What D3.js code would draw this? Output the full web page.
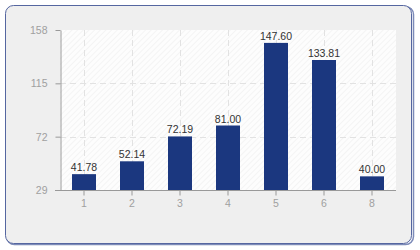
<!DOCTYPE html>
<html>
<head>
<meta charset="utf-8">
<script src="https://cdn.jsdelivr.net/npm/d3@7"></script>
<style>
  body { margin: 0; background: #fff; }
  text { font-family: "Liberation Sans", Arial, sans-serif; }
</style>
</head>
<body>
<div class="chartBox"></div>
<script>
// data
var categories = ['1', '2', '3', '4', '5', '6', '8'];
var values = [41.78, 52.14, 72.19, 81.00, 147.60, 133.81, 40.00];
var yTicks = [29, 72, 115, 158];

var W = 420, H = 250;
var margin = { top: 30, right: 24, bottom: 60, left: 60 };
var w = W - margin.left - margin.right,
    h = H - margin.top - margin.bottom;

var svg = d3.select('div.chartBox')
  .append('svg')
  .attr('width', W)
  .attr('height', H);

// hatched plot background
var defs = svg.append('defs');
var pat = defs.append('pattern')
  .attr('id', 'hatch')
  .attr('patternUnits', 'userSpaceOnUse')
  .attr('width', 4).attr('height', 4)
  .attr('patternTransform', 'rotate(45)');
pat.append('rect').attr('width', 4).attr('height', 4).attr('fill', '#fdfdfd');
pat.append('line').attr('x1', 0).attr('y1', 0).attr('x2', 0).attr('y2', 4)
  .attr('stroke', '#ececec').attr('stroke-width', 1);

// outer panel with a slight shadow
svg.append('rect')
  .attr('x', 6.5).attr('y', 6.5).attr('width', 407).attr('height', 238)
  .attr('rx', 8)
  .attr('fill', 'none').attr('stroke', '#7d8bb8').attr('stroke-width', 1.5);
svg.append('rect')
  .attr('x', 5.5).attr('y', 5.5).attr('width', 406).attr('height', 238)
  .attr('rx', 8)
  .attr('fill', '#efefef').attr('stroke', '#5566a0').attr('stroke-width', 1);

var g = svg.append('g')
  .attr('transform', 'translate(' + margin.left + ',' + margin.top + ')');

var x = d3.scaleBand().domain(categories).range([0, w])
  .paddingInner(0.5).paddingOuter(0.25);
var y = d3.scaleLinear().domain([29, 158]).range([h, 0]);

g.append('rect')
  .attr('width', w).attr('height', h)
  .attr('fill', 'url(#hatch)');

// grid
g.selectAll('line.hgrid')
  .data(yTicks.slice(1, 3))
  .enter()
  .append('line')
  .attr('class', 'hgrid')
  .attr('x1', 0).attr('x2', w)
  .attr('y1', function(d) { return Math.round(y(d)) + 0.5; })
  .attr('y2', function(d) { return Math.round(y(d)) + 0.5; })
  .attr('stroke', '#e2e2e2').attr('stroke-dasharray', '6,4');

g.selectAll('line.vgrid')
  .data(categories)
  .enter()
  .append('line')
  .attr('class', 'vgrid')
  .attr('x1', function(d) { return Math.round(x(d) + x.bandwidth() / 2) + 0.5; })
  .attr('x2', function(d) { return Math.round(x(d) + x.bandwidth() / 2) + 0.5; })
  .attr('y1', 0).attr('y2', h)
  .attr('stroke', '#e2e2e2').attr('stroke-dasharray', '6,4');

// bars
g.selectAll('rect.bar')
  .data(values)
  .enter()
  .append('rect')
  .attr('class', 'bar')
  .attr('x', function(d, i) { return x(categories[i]); })
  .attr('y', function(d) { return y(d); })
  .attr('width', x.bandwidth())
  .attr('height', function(d) { return h - y(d); })
  .attr('fill', '#1b377f');

g.selectAll('text.val')
  .data(values)
  .enter()
  .append('text')
  .attr('class', 'val')
  .attr('x', function(d, i) { return x(categories[i]) + x.bandwidth() / 2; })
  .attr('y', function(d) { return y(d) - 3; })
  .attr('text-anchor', 'middle')
  .attr('font-size', '10.5px')
  .attr('fill', '#333')
  .text(function(d) { return d.toFixed(2); });

// axes
var yAxis = g.append('g')
  .attr('transform', 'translate(0.5,0)')
  .call(d3.axisLeft(y).tickValues(yTicks).tickSize(5).tickSizeOuter(0).tickPadding(8));
var xAxis = g.append('g')
  .attr('transform', 'translate(0,' + (h + 0.5) + ')')
  .call(d3.axisBottom(x).tickSize(5).tickSizeOuter(0).tickPadding(4));

[yAxis, xAxis].forEach(function(a) {
  a.select('.domain').attr('stroke', '#999');
  a.selectAll('.tick line').attr('stroke', '#999');
  a.selectAll('.tick text').attr('fill', '#a0a0a0')
    .style('font-family', '"Liberation Sans", Arial, sans-serif')
    .style('font-size', '10.5px');
});
// x baseline reaches out to the y tick marks
xAxis.select('.domain').attr('d', 'M-5,0H' + w);
</script>
</body>
</html>
